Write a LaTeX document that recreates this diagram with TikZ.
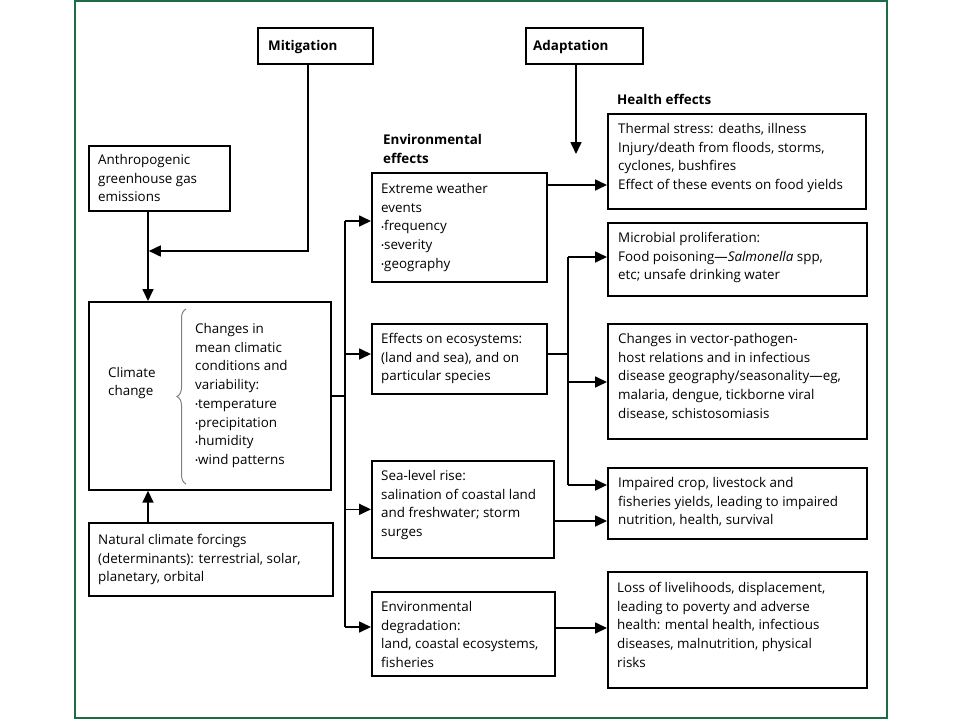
\documentclass[tikz,border=0pt]{standalone}
\usepackage{fontspec}
\usepackage{graphicx}
\setmainfont{Open Sans}
\usetikzlibrary{arrows.meta,decorations.pathreplacing}
\definecolor{framegreen}{RGB}{28,108,68}
\newcommand{\mybox}[5]{\node[box, anchor=north west, minimum width={#4-#2}, minimum height={#5-#3}] (#1) at (#2,#3) {};}
\newcommand{\bul}{\raisebox{0.12ex}{\scalebox{0.6}{\textbullet}}}
\begin{document}
\begin{tikzpicture}[x=1pt,y=-1pt,
  box/.style={draw, line width=1.7pt, inner sep=0pt},
  txt/.style={anchor=north west, inner sep=0pt, align=left, font=\fontsize{13.4}{18.75}\selectfont},
  hdr/.style={anchor=north west, inner sep=0pt, align=left, font=\fontsize{13.4}{18.75}\selectfont\bfseries},
  conn/.style={line width=1.7pt},
  arr/.style={conn, -{Triangle[length=12pt,width=11pt]}}]
\useasboundingbox (0,0) rectangle (960,720);
\draw[framegreen, line width=2pt] (75,1) rectangle (887,718);

% boxes
\mybox{mit}{257}{27}{372}{63}
\mybox{adapt}{525}{27}{642}{63}
\mybox{anthro}{88}{145}{229}{210}
\mybox{climate}{88}{301}{330}{489}
\mybox{natural}{88}{522}{332}{595}
\mybox{extreme}{371}{172}{546}{281}
\mybox{eco}{371}{323}{546}{393}
\mybox{sea}{371}{460}{553}{557}
\mybox{degr}{371}{591}{554}{675}
\mybox{thermal}{607}{113}{865}{208}
\mybox{micro}{607}{222}{866}{295}
\mybox{vector}{607}{323}{866}{438}
\mybox{crop}{607}{467}{866}{538}
\mybox{loss}{607}{571}{866}{687}

% texts
\node[hdr, anchor=west] (mit-t) at ([xshift=11pt,yshift=-1pt]mit.west) {Mitigation};
\node[hdr, anchor=west] (adapt-t) at ([xshift=8pt,yshift=-1pt]adapt.west) {Adaptation};
\node[txt] (anthro-t) at ([xshift=10pt,yshift=-9pt]anthro.north west) {Anthropogenic\\greenhouse gas\\emissions};
\node[txt, anchor=west] (climate-t) at (108,383) {Climate\\change};
\node[txt] (brace-t) at (195,323) {Changes in\\mean climatic\\conditions and\\variability:\\\bul temperature\\\bul precipitation\\\bul humidity\\\bul wind patterns};
\node[txt] (natural-t) at ([xshift=10pt,yshift=-12pt]natural.north west) {Natural climate forcings\\(determinants): terrestrial, solar,\\planetary, orbital};
\node[hdr] (env-h) at (383,134) {Environmental\\effects};
\node[hdr] (health-h) at (617,94) {Health effects};
\node[txt] (extreme-t) at ([xshift=10pt,yshift=-11pt]extreme.north west) {Extreme weather\\events\\\bul frequency\\\bul severity\\\bul geography};
\node[txt] (eco-t) at ([xshift=10pt,yshift=-10pt]eco.north west) {Effects on ecosystems:\\(land and sea), and on\\particular species};
\node[txt] (sea-t) at ([xshift=10pt,yshift=-10pt]sea.north west) {Sea-level rise:\\salination of coastal land\\and freshwater; storm\\surges};
\node[txt] (degr-t) at ([xshift=10pt,yshift=-10pt]degr.north west) {Environmental\\degradation:\\land, coastal ecosystems,\\fisheries};
\node[txt] (thermal-t) at ([xshift=11pt,yshift=-10pt]thermal.north west) {Thermal stress: deaths, illness\\Injury/death from floods, storms,\\cyclones, bushfires\\Effect of these events on food yields};
\node[txt] (micro-t) at ([xshift=11pt,yshift=-10pt]micro.north west) {Microbial proliferation:\\Food poisoning---\textit{Salmonella} spp,\\etc; unsafe drinking water};
\node[txt] (vector-t) at ([xshift=11pt,yshift=-10pt]vector.north west) {Changes in vector-pathogen-\\host relations and in infectious\\disease geography/seasonality---eg,\\malaria, dengue, tickborne viral\\disease, schistosomiasis};
\node[txt] (crop-t) at ([xshift=11pt,yshift=-10pt]crop.north west) {Impaired crop, livestock and\\fisheries yields, leading to  impaired\\nutrition, health, survival};
\node[txt] (loss-t) at ([xshift=10pt,yshift=-11pt]loss.north west) {Loss of livelihoods, displacement,\\leading to poverty and adverse\\health: mental health, infectious\\diseases, malnutrition, physical\\risks};

% brace
\draw[gray, line width=1pt, decorate, decoration={brace, amplitude=9pt}] (186,484) -- (186,309);

% helper coordinates
\coordinate (j1) at (148,251);
\coordinate (mx) at (308,0);
\coordinate (tk) at (345,0);
\coordinate (ye) at (0,221);
\coordinate (yd) at (0,627);
\coordinate (yt) at (0,185);
\coordinate (ad) at (576,0);
\coordinate (adtip) at (576,154);
\coordinate (br) at (568,0);
\coordinate (yeco) at (0,354);
\coordinate (ym) at (0,257);
\coordinate (yv) at (0,382);
\coordinate (yc) at (0,485);
\coordinate (ys) at (0,521);
\coordinate (yl) at (0,628);

% connectors left
\draw[arr] (mit.south -| mx) -- (mx |- j1) -- ([xshift=0.8pt]j1);
\draw[arr] (anthro.south -| j1) -- (climate.north -| j1);
\draw[arr] (natural.north -| j1) -- (climate.south -| j1);
\draw[conn] (climate.east) -- (climate.east -| tk);
\draw[conn] (tk |- ye) -- (tk |- yd);
\draw[arr] (tk |- ye) -- (extreme.west |- ye);
\draw[arr] (tk |- yeco) -- (eco.west |- yeco);
\draw[arr] (tk |- sea.west) -- (sea.west);
\draw[arr] (tk |- yd) -- (degr.west |- yd);

% connectors right
\draw[arr] (adapt.south -| ad) -- (adtip);
\draw[arr] (extreme.east |- yt) -- (thermal.west |- yt);
\draw[conn] (eco.east |- yeco) -- (br |- yeco);
\draw[conn] (br |- ym) -- (br |- yc);
\draw[arr] (br |- ym) -- (micro.west |- ym);
\draw[arr] (br |- yv) -- (vector.west |- yv);
\draw[arr] (br |- yc) -- (crop.west |- yc);
\draw[arr] (sea.east |- ys) -- (crop.west |- ys);
\draw[arr] (degr.east |- yl) -- (loss.west |- yl);
\end{tikzpicture}
\end{document}
